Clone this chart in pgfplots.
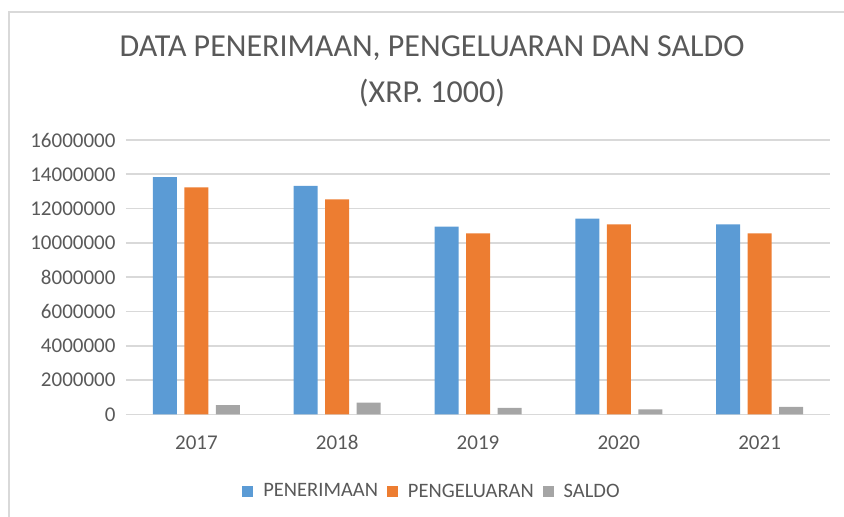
\documentclass[border=0pt]{standalone}
\usepackage{fontspec}
\setmainfont{Carlito}
\usepackage{pgfplots}
\pgfplotsset{compat=1.18}
\definecolor{cblue}{HTML}{5B9BD5}
\definecolor{corange}{HTML}{ED7D31}
\definecolor{cgray}{HTML}{A5A5A5}
\definecolor{cgrid}{HTML}{D9D9D9}
\definecolor{ctext}{HTML}{595959}
\begin{document}
\begin{tikzpicture}
\path[use as bounding box] (-126bp,-102.7bp) rectangle (718bp,414.3bp);
\draw[cgrid, line width=2bp] (-116.5bp,-102.7bp) -- (-116.5bp,402.3bp) -- (718bp,402.3bp);
\begin{axis}[
  at={(0,0)}, anchor=south west,
  scale only axis,
  width=704bp, height=274.3bp,
  ybar=7.5bp, bar width=24bp,
  xmin=-0.5, xmax=4.5,
  ymin=0, ymax=16000000,
  ytick={0,2000000,...,16000000},
  xtick={0,1,2,3,4},
  xticklabels={2017,2018,2019,2020,2021},
  scaled y ticks=false,
  /pgf/number format/assume math mode=true,
  yticklabel style={/pgf/number format/fixed,/pgf/number format/1000 sep={}},
  ticklabel style={font=\fontsize{21bp}{24bp}\selectfont, text=ctext},
  xticklabel style={anchor=base, yshift=-35bp},
  yticklabel style={xshift=-7bp},
  major tick length=0pt,
  axis line style={draw=none},
  ymajorgrids,
  grid style={cgrid, line width=1.6bp},
  legend columns=-1,
  legend style={at={(0.4347,-0.28)}, anchor=center, draw=none,
    font=\fontsize{20.5bp}{24bp}\selectfont, text=ctext,
    /tikz/every odd column/.append style={column sep=8bp},
    /tikz/every even column/.append style={column sep=7bp}},
  legend image code/.code={\fill[#1] (0bp,-5.5bp) rectangle (11bp,5.5bp);},
]
\addplot[fill=cblue, draw=none] coordinates {(0,13830000) (1,13320000) (2,10950000) (3,11410000) (4,11080000)};
\addplot[fill=corange, draw=none] coordinates {(0,13240000) (1,12540000) (2,10560000) (3,11080000) (4,10560000)};
\addplot[fill=cgray, draw=none] coordinates {(0,540000) (1,680000) (2,370000) (3,290000) (4,430000)};
\legend{PENERIMAAN,PENGELUARAN,SALDO}
\end{axis}
\node[font=\fontsize{32bp}{36bp}\selectfont, text=ctext] at (306bp,366bp) {DATA PENERIMAAN, PENGELUARAN DAN SALDO};
\node[font=\fontsize{32bp}{36bp}\selectfont, text=ctext] at (306bp,321bp) {(XRP. 1000)};
\end{tikzpicture}
\end{document}
